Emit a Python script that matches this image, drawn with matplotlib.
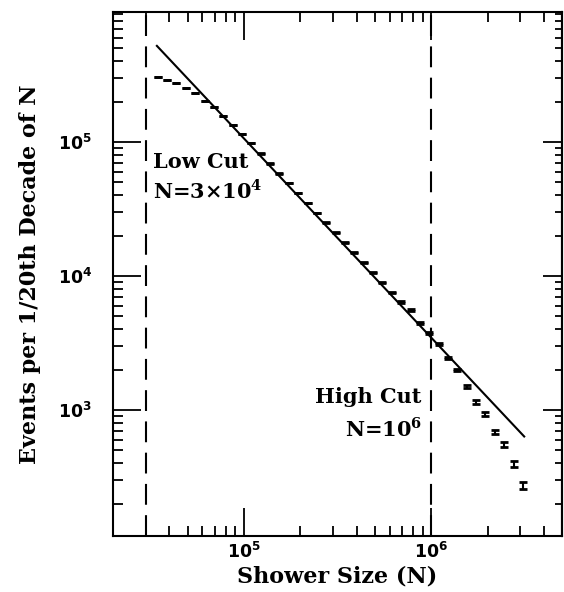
import numpy as np
import matplotlib
matplotlib.use("Agg")
import matplotlib.pyplot as plt
from matplotlib.ticker import LogLocator, FuncFormatter, NullFormatter

# log10 of shower size bin centres (1/20 decade bins)
log_size = [4.54, 4.59, 4.64, 4.69, 4.74, 4.79, 4.84, 4.89, 4.94, 4.99,
            5.04, 5.09, 5.14, 5.19, 5.24, 5.29, 5.34, 5.39, 5.44, 5.49,
            5.54, 5.59, 5.64, 5.69, 5.74, 5.79, 5.84, 5.89, 5.94, 5.99,
            6.04, 6.09, 6.14, 6.19, 6.24, 6.29, 6.34, 6.39, 6.44, 6.49]
events = [305500, 290400, 275400, 252900, 232300, 202300, 182400, 156300, 134000, 114800,
          98400, 82000, 69200, 58300, 49200, 41500, 35000, 29500, 24900, 21000,
          17700, 14900, 12600, 10600, 8950, 7550, 6370, 5570, 4460, 3760,
          3090, 2450, 1990, 1510, 1150, 933, 685, 557, 395, 275]
errors = [550, 540, 525, 505, 480, 450, 425, 395, 365, 340,
          315, 285, 265, 240, 220, 205, 185, 170, 160, 145,
          135, 120, 110, 105, 95, 87, 80, 75, 67, 61,
          56, 50, 45, 39, 34, 31, 26, 24, 20, 17]

# power-law fit, end points
fit_size = [3.43e4, 3.14e6]
fit_events = [5.2e5, 6.35e2]

low_cut = 3e4
high_cut = 1e6

plt.rcParams['font.family'] = 'DejaVu Serif'
plt.rcParams['mathtext.fontset'] = 'custom'
plt.rcParams['mathtext.rm'] = 'DejaVu Serif:bold'
plt.rcParams['mathtext.bf'] = 'DejaVu Serif:bold'
plt.rcParams['mathtext.sf'] = 'DejaVu Sans:bold'

fig = plt.figure(figsize=(5.64, 5.92), dpi=100)
ax = fig.add_axes([0.2004, 0.0946, 0.7961, 0.8851])

size = [10 ** v for v in log_size]
ax.errorbar(size, events, yerr=errors, fmt='none', ecolor='black',
            elinewidth=1.5, capsize=3, capthick=2)
ax.plot(fit_size, fit_events, color='black', lw=1.5)

ax.axvline(low_cut, color='black', lw=1.5, dashes=(10, 5))
ax.axvline(high_cut, color='black', lw=1.5, dashes=(10, 5))

ax.set_xscale('log')
ax.set_yscale('log')
ax.set_xlim(2e4, 5e6)
ax.set_ylim(1.15e2, 9.3e5)

fmt = FuncFormatter(lambda v, p: r'$\mathsf{10^{%d}}$' % round(np.log10(v)))
ax.xaxis.set_major_locator(LogLocator(base=10))
ax.yaxis.set_major_locator(LogLocator(base=10))
ax.xaxis.set_minor_locator(LogLocator(base=10, subs=np.arange(2, 10)))
ax.yaxis.set_minor_locator(LogLocator(base=10, subs=np.arange(2, 10)))
ax.xaxis.set_major_formatter(fmt)
ax.yaxis.set_major_formatter(fmt)
ax.xaxis.set_minor_formatter(NullFormatter())
ax.yaxis.set_minor_formatter(NullFormatter())

ax.tick_params(which='both', direction='in', top=True, right=False, width=1.3, labelsize=12.5)
ax.tick_params(which='major', length=20)
ax.tick_params(which='minor', length=7.5)
ax.tick_params(axis='y', which='major', pad=15)
ax.tick_params(axis='x', which='major', pad=4)
for s in ax.spines.values():
    s.set_linewidth(1.5)

# right side ticks are shorter
sec = ax.secondary_yaxis('right')
sec.yaxis.set_major_locator(LogLocator(base=10))
sec.yaxis.set_minor_locator(LogLocator(base=10, subs=np.arange(2, 10)))
sec.yaxis.set_major_formatter(NullFormatter())
sec.yaxis.set_minor_formatter(NullFormatter())
sec.tick_params(which='both', direction='in', width=1.3)
sec.tick_params(which='major', length=14)
sec.tick_params(which='minor', length=5)
sec.spines['right'].set_linewidth(1.5)

ax.text(3.25e4, 7.1e4, 'Low Cut', fontsize=15, fontweight='bold', va='center')
ax.text(3.25e4, 4.3e4, r'N=3$\times$10$^{4}$', fontsize=15, fontweight='bold', va='center')
ax.text(8.9e5, 1.25e3, 'High Cut', fontsize=15, fontweight='bold', va='center', ha='right')
ax.text(8.9e5, 7.3e2, r'N=10$^{6}$', fontsize=15, fontweight='bold', va='center', ha='right')

ax.set_xlabel('Shower Size (N)', fontsize=16, fontweight='bold', labelpad=3)
ax.set_ylabel('Events per 1/20th Decade of N', fontsize=16, fontweight='bold', labelpad=12)

fig.savefig('out.png', dpi=100)
